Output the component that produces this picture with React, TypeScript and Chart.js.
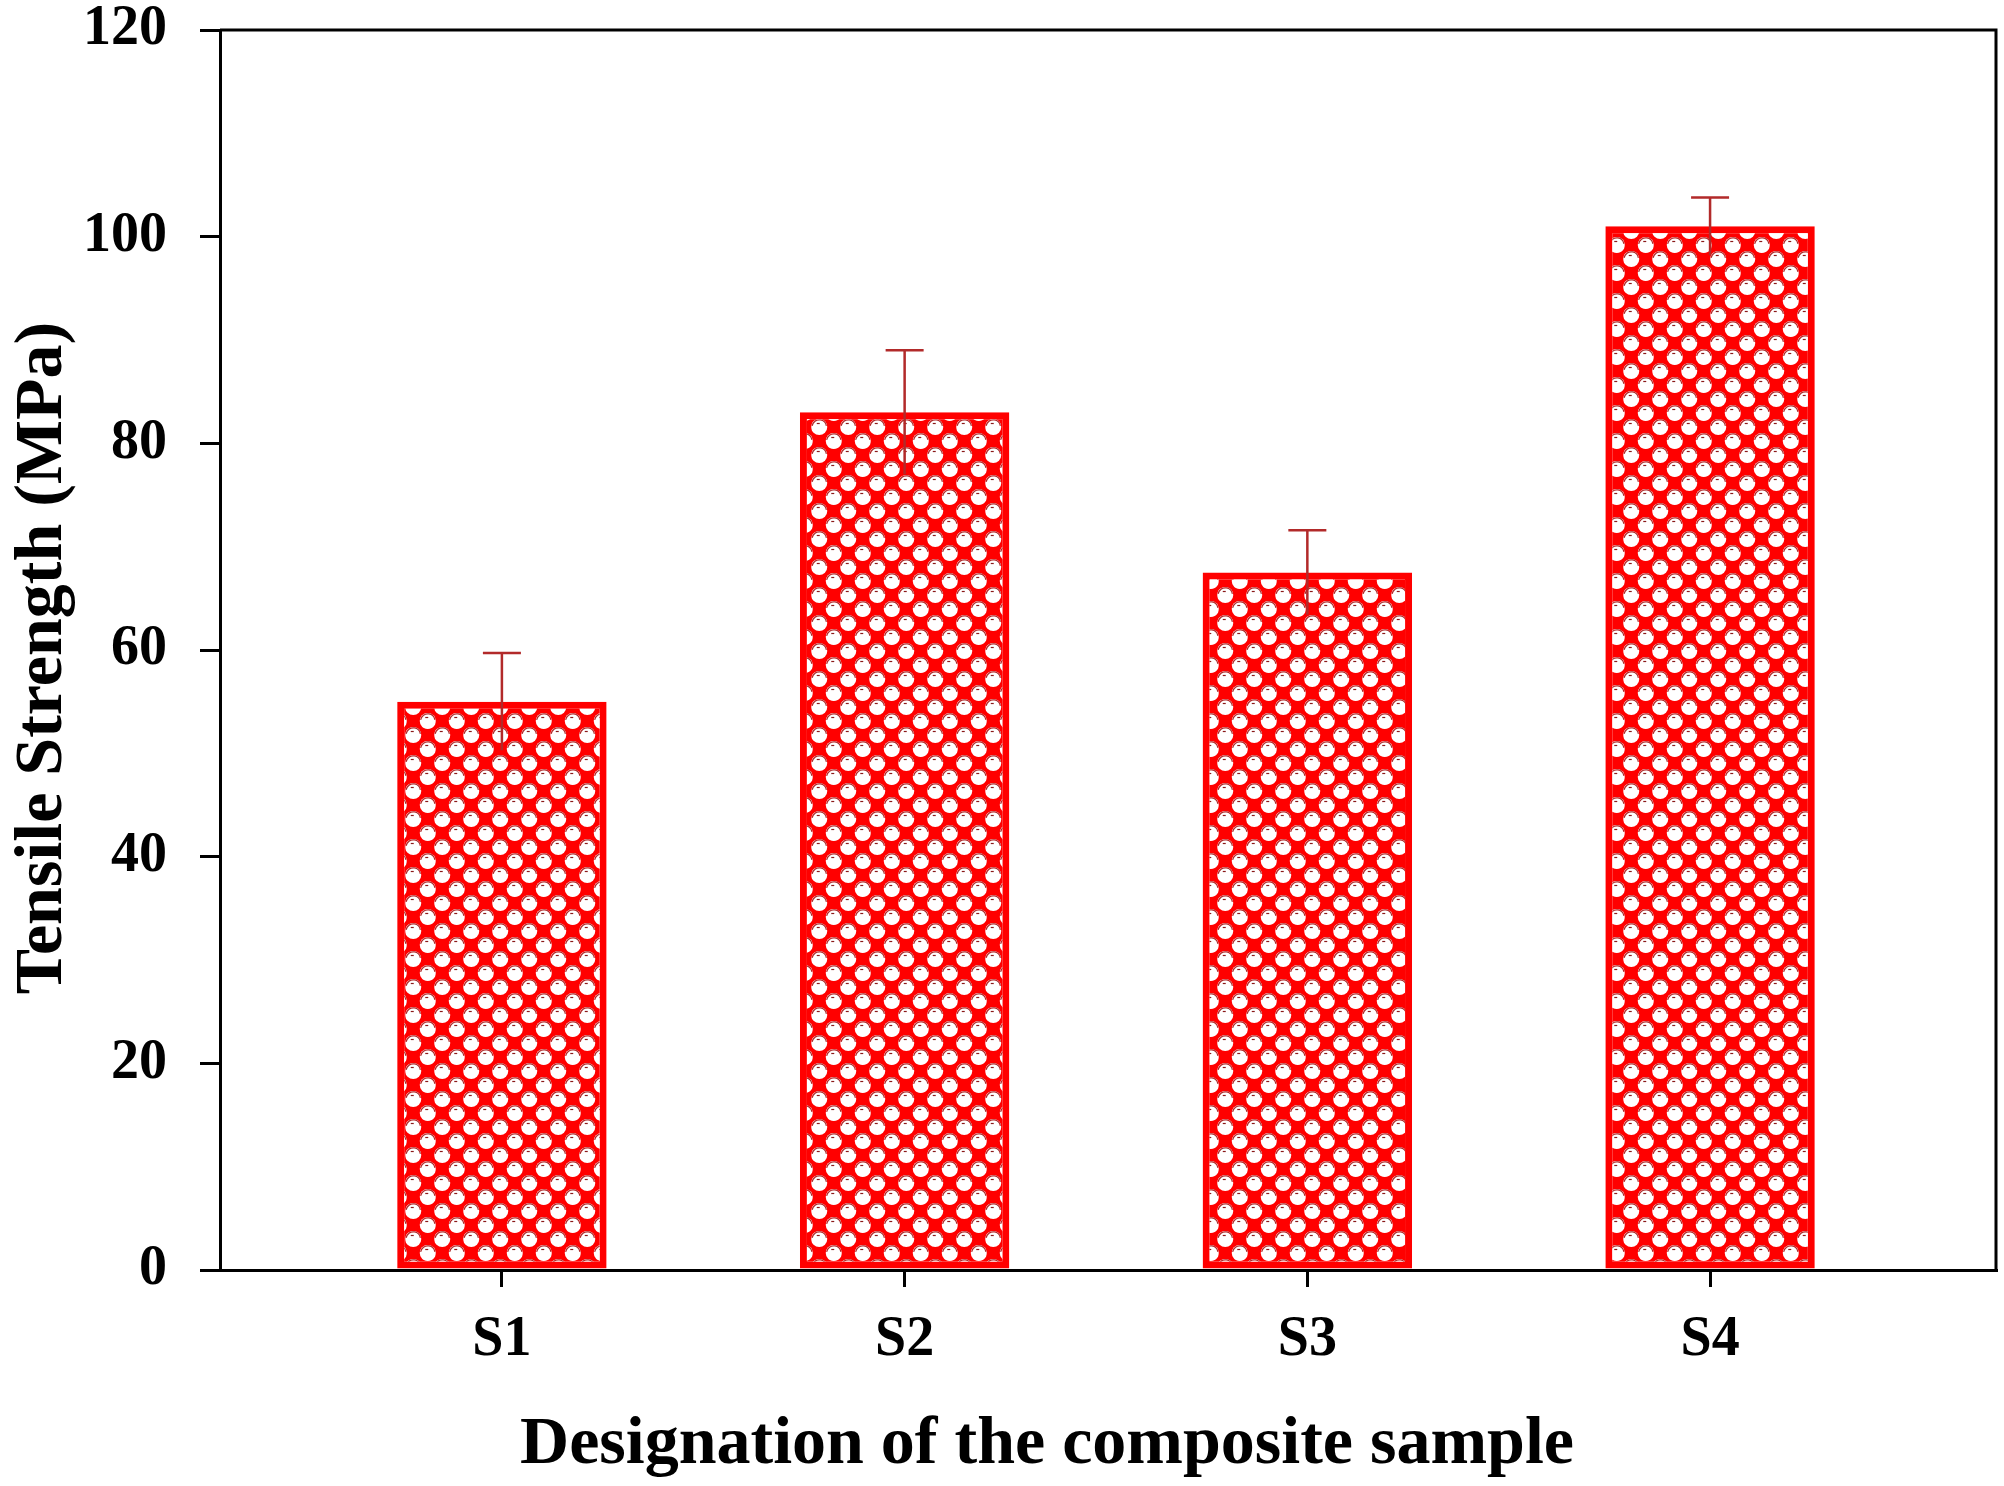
import React, { useEffect, useRef } from "react";
import { Chart, registerables } from "chart.js";

Chart.register(...registerables);

// data
const samples = ["S1", "S2", "S3", "S4"];
const samplePos = [1, 2, 3, 4];
const tensileStrength = [55, 83, 67.5, 101];
const errorBars = [4.7, 6, 4.1, 2.8];
const yTicks = [0, 20, 40, 60, 80, 100, 120];

const FONT = "'Liberation Serif', 'Times New Roman', serif";

// red fill with white dots, like the SigmaPlot pattern
const makePattern = (ctx: CanvasRenderingContext2D) => {
    const w = 29;
    const h = 28;
    const c = document.createElement("canvas");
    c.width = w;
    c.height = h;
    const p = c.getContext("2d")!;
    p.fillStyle = "#ff0000";
    p.fillRect(0, 0, w, h);
    const centers = [
        [7.25, 7],
        [21.75, 21],
    ];
    for (const [cx, cy] of centers) {
        for (const dx of [-w, 0, w]) {
            for (const dy of [-h, 0, h]) {
                const x = cx + dx;
                const y = cy + dy;
                p.beginPath();
                p.arc(x, y, 8, 0, Math.PI * 2);
                p.fillStyle = "#ffffff";
                p.fill();
                p.beginPath();
                p.arc(x, y, 7.2, Math.PI * 1.05, Math.PI * 1.95);
                p.strokeStyle = "#b02a2a";
                p.lineWidth = 1.2;
                p.stroke();
                p.beginPath();
                p.moveTo(x - 2.5, y - 3.5);
                p.lineTo(x + 0.5, y - 3.5);
                p.strokeStyle = "#8b1a1a";
                p.lineWidth = 1.2;
                p.stroke();
            }
        }
    }
    return ctx.createPattern(c, "repeat")!;
};

const framePlugin = {
    id: "frame",
    afterDraw(chart: any) {
        const { ctx, chartArea } = chart;
        ctx.save();
        ctx.strokeStyle = "#000";
        ctx.lineWidth = 3;
        ctx.beginPath();
        ctx.moveTo(chartArea.left, chartArea.top);
        ctx.lineTo(chartArea.right, chartArea.top);
        ctx.lineTo(chartArea.right, chartArea.bottom);
        ctx.stroke();
        ctx.restore();
    },
};

const errorBarPlugin = {
    id: "errorBars",
    afterDatasetsDraw(chart: any) {
        const { ctx } = chart;
        const xs = chart.scales.x;
        const ys = chart.scales.y;
        ctx.save();
        ctx.strokeStyle = "#b22a2a";
        ctx.lineWidth = 2.5;
        tensileStrength.forEach((v, i) => {
            const x = xs.getPixelForValue(samplePos[i]);
            const top = ys.getPixelForValue(v + errorBars[i]);
            const bottom = ys.getPixelForValue(v - errorBars[i]);
            ctx.beginPath();
            ctx.moveTo(x, bottom);
            ctx.lineTo(x, top);
            ctx.moveTo(x - 19, top);
            ctx.lineTo(x + 19, top);
            ctx.stroke();
        });
        ctx.restore();
    },
};

const titlesPlugin = {
    id: "axisTitles",
    afterDraw(chart: any) {
        const { ctx, chartArea } = chart;
        ctx.save();
        ctx.fillStyle = "#000";
        ctx.font = `bold 68px ${FONT}`;
        ctx.textAlign = "center";
        ctx.textBaseline = "alphabetic";
        ctx.fillText("Designation of the composite sample", 1047, 1463);
        ctx.translate(61, (chartArea.top + chartArea.bottom) / 2 + 8);
        ctx.rotate(-Math.PI / 2);
        ctx.fillText("Tensile Strength (MPa)", 0, 0);
        ctx.restore();
    },
};

const App: React.FC = () => {
    const chartRef = useRef<HTMLCanvasElement | null>(null);
    const chartInstance = useRef<Chart | null>(null);

    useEffect(() => {
        const ctx = chartRef.current?.getContext("2d");
        if (!ctx) return;
        const pattern = makePattern(ctx);

        chartInstance.current = new Chart(ctx, {
            type: "bar",
            data: {
                datasets: [
                    {
                        label: "Tensile Strength",
                        data: tensileStrength.map((v, i) => ({ x: samplePos[i], y: v })),
                        backgroundColor: pattern,
                        borderColor: "#ff0000",
                        borderWidth: 7,
                        borderSkipped: false,
                        barPercentage: 0.52,
                        categoryPercentage: 1,
                    },
                ],
            },
            options: {
                animation: false,
                responsive: true,
                maintainAspectRatio: false,
                layout: { padding: { top: 30, right: 8, left: 0, bottom: 0 } },
                plugins: {
                    legend: { display: false },
                    tooltip: { enabled: false },
                },
                scales: {
                    x: {
                        type: "linear",
                        min: 0.3,
                        max: 4.71,
                        offset: false,
                        z: 1,
                        afterFit: (scale: any) => {
                            scale.height = 216;
                            scale.paddingLeft = 0;
                            scale.paddingRight = 0;
                        },
                        afterBuildTicks: (scale: any) => {
                            scale.ticks = samplePos.map((v) => ({ value: v }));
                        },
                        ticks: {
                            autoSkip: false,
                            maxRotation: 0,
                            padding: 26,
                            color: "#000",
                            font: { family: FONT, size: 56, weight: "bold", lineHeight: 1 },
                            callback: (value: any) => samples[samplePos.indexOf(Number(value))] ?? "",
                        },
                        grid: {
                            offset: false,
                            drawOnChartArea: false,
                            drawTicks: true,
                            tickLength: 17,
                            color: "#000",
                            lineWidth: 3,
                        },
                        border: { display: true, color: "#000", width: 3 },
                    },
                    y: {
                        min: 0,
                        max: 120,
                        z: 1,
                        afterFit: (scale: any) => {
                            scale.width = 220;
                            scale.paddingTop = 0;
                            scale.paddingBottom = 0;
                        },
                        afterBuildTicks: (scale: any) => {
                            scale.ticks = yTicks.map((v) => ({ value: v }));
                        },
                        ticks: {
                            padding: 33,
                            color: "#000",
                            font: { family: FONT, size: 56, weight: "bold", lineHeight: 1 },
                        },
                        grid: {
                            drawOnChartArea: false,
                            drawTicks: true,
                            tickLength: 20,
                            color: "#000",
                            lineWidth: 3,
                        },
                        border: { display: true, color: "#000", width: 3 },
                    },
                },
            },
            plugins: [framePlugin, errorBarPlugin, titlesPlugin],
        });

        return () => {
            if (chartInstance.current) {
                chartInstance.current.destroy();
                chartInstance.current = null;
            }
        };
    }, []);

    return (
        <div
            style={{
                position: "fixed",
                left: 0,
                top: 0,
                width: "2004px",
                height: "1486px",
                background: "#fff",
            }}
        >
            <canvas ref={chartRef}></canvas>
        </div>
    );
};

export default App;
